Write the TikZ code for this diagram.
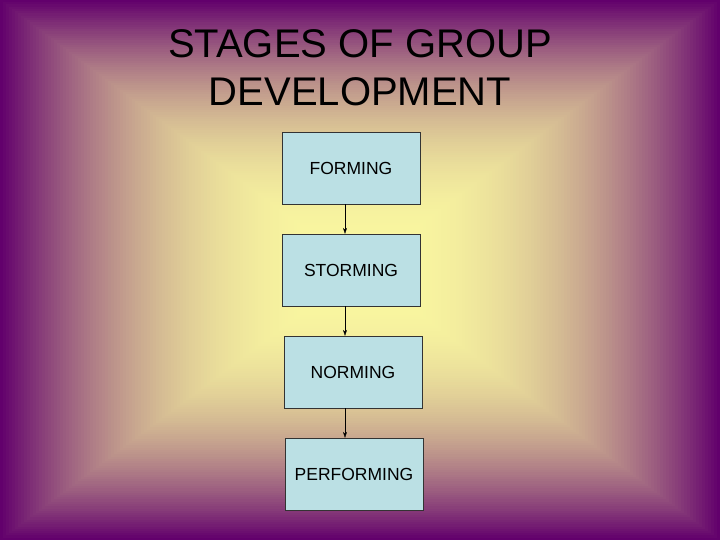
\documentclass[tikz,border=0pt]{standalone}
\usepackage{fontspec}
\setmainfont{Liberation Sans}
\usetikzlibrary{arrows.meta}
\definecolor{boxfill}{RGB}{187,224,228}
\definecolor{edgepu}{RGB}{98,0,108}
\definecolor{centye}{RGB}{250,248,160}
\tikzset{stage/.style={draw=black!80,fill=boxfill,minimum width=138bp,minimum height=72bp,font=\fontsize{17.5bp}{20bp}\selectfont,inner sep=0pt},
 conn/.style={draw=black,-{Stealth[length=6bp,width=4bp]}}}
\begin{document}
\begin{tikzpicture}[x=1bp,y=1bp]
\foreach \i in {0,...,119}{
  \pgfmathsetmacro{\t}{1-\i/120}
  \pgfmathsetmacro{\p}{100*(\t^2.4)}
  \colorlet{cc}{edgepu!\p!centye}
  \fill[cc] ({360-360*\t},{270-270*\t}) rectangle ({360+360*\t},{270+270*\t});
}
\useasboundingbox (0,0) rectangle (720,540);
\node[align=center,font=\fontsize{40bp}{48bp}\selectfont] (title) at (360,472) {STAGES OF GROUP\\DEVELOPMENT};
\node[stage] (s1) at (351,372) {FORMING};
\node[stage] (s2) at (351,270) {STORMING};
\node[stage] (s3) at (353,168) {NORMING};
\node[stage] (s4) at (354,66) {PERFORMING};
\draw[conn] (s1.south -| 345,0) -- (s2.north -| 345,0);
\draw[conn] (s2.south -| 345,0) -- (s3.north -| 345,0);
\draw[conn] (s3.south -| 345,0) -- (s4.north -| 345,0);
\end{tikzpicture}
\end{document}
